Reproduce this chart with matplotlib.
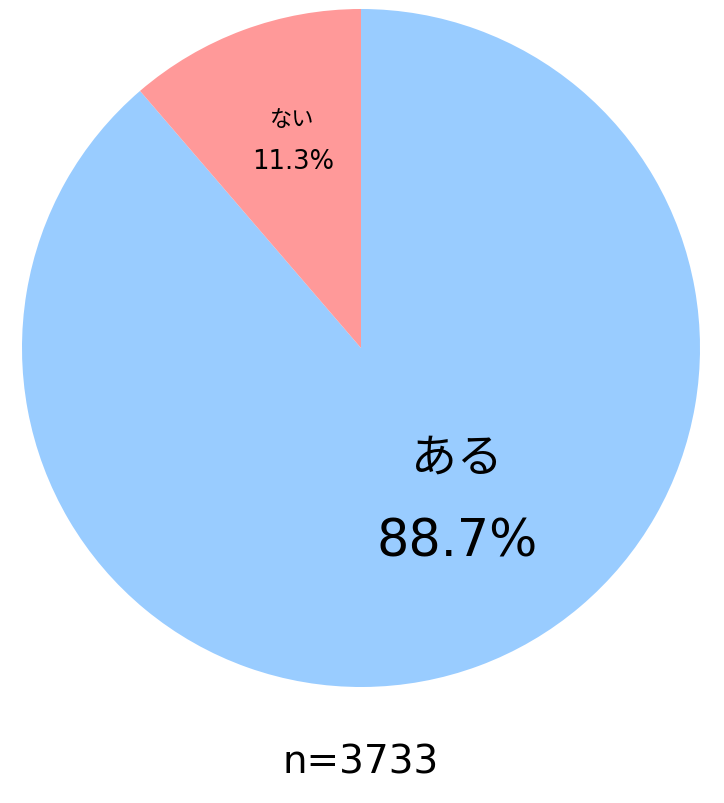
import matplotlib
matplotlib.use("Agg")
import matplotlib.pyplot as plt

labels = ["ある", "ない"]
shares = [88.7, 11.3]
colors = ["#99CCFF", "#FF9999"]
n_total = 3733

plt.rcParams['font.family'] = ['DejaVu Sans', 'Noto Sans CJK JP']

fig = plt.figure(figsize=(7.24, 8.04), dpi=100)
ax = fig.add_axes([22 / 724, 116 / 804, 678 / 724, 678 / 804])
ax.pie(shares, colors=colors, startangle=90, counterclock=False,
       wedgeprops=dict(linewidth=0))
ax.set_xlim(-1, 1)
ax.set_ylim(-1, 1)
ax.set_aspect("equal")
ax.axis("off")

# label placement (data coords of the pie)
ax.text(0.283, -0.325, labels[0], ha="center", va="center", fontsize=33)
ax.text(0.285, -0.572, f"{shares[0]}%", ha="center", va="center", fontsize=36.5)
ax.text(-0.204, 0.676, labels[1], ha="center", va="center", fontsize=16)
ax.text(-0.200, 0.552, f"{shares[1]}%", ha="center", va="center", fontsize=18.5)

fig.text(0.4986, 1 - 763 / 804, f"n={n_total}", ha="center", va="center", fontsize=28)

fig.savefig("out.png", dpi=100, facecolor="white")
